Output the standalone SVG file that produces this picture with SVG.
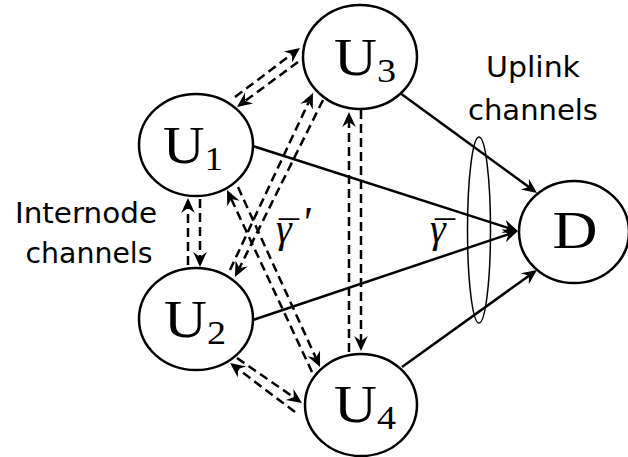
<svg xmlns="http://www.w3.org/2000/svg" width="628" height="457" viewBox="0 0 628 457">
<style>
.node{fill:#fff;stroke:#000;stroke-width:2.5}
.lbl{font-family:"Liberation Serif","Times New Roman",serif;font-size:53px;fill:#000}
.sub{font-size:34px}
.cap{font-family:"DejaVu Sans","Liberation Sans",sans-serif;font-size:29px;fill:#000}
.gm{font-family:"Liberation Serif","Times New Roman",serif;font-style:italic;font-size:40px;fill:#000}
.bar{font-style:normal;font-size:40px}
.pr{font-size:44px}
.dash{fill:none;stroke:#000;stroke-width:2.5;stroke-dasharray:9 5;marker-end:url(#ah)}
.solid{fill:none;stroke:#000;stroke-width:2.5;marker-end:url(#ah)}
</style>
<defs>
<marker id="ah" markerUnits="userSpaceOnUse" markerWidth="22" markerHeight="18" viewBox="-14 -9 18 18" refX="0" refY="0" orient="auto">
<path d="M3,0 L-12,-6.8 L-7,0 L-12,6.8 Z" fill="#000"/>
</marker>
</defs>
<rect width="628" height="457" fill="#fff"/>
<g id="connectors">
<path class="dash" d="M235,97 L297.6,49.8"/>
<path class="dash" d="M298,62 L239.4,105.2"/>
<path class="dash" d="M200,199 L200,264"/>
<path class="dash" d="M188,265 L188,201"/>
<path class="dash" d="M238,187 L318.8,364.3"/>
<path class="dash" d="M312,372 L228.3,192.7"/>
<path class="dash" d="M230,270 L311.7,95.7"/>
<path class="dash" d="M323,100 L236.3,274.3"/>
<path class="dash" d="M361,110 L361,348"/>
<path class="dash" d="M349,352 L349,115"/>
<path class="dash" d="M237,358 L299.5,401.3"/>
<path class="dash" d="M295,412 L232.4,364.8"/>
<path class="solid" d="M253,146 L515.1,230.1"/>
<path class="solid" d="M253,320 L515.1,232"/>
<path class="solid" d="M400,93 L534.6,191.2"/>
<path class="solid" d="M402,367 L534.6,271.7"/>
</g>
<g id="uplink-group">
<ellipse cx="479" cy="230" rx="11.5" ry="93" fill="none" stroke="#000" stroke-width="1.5"/>
</g>
<g id="U1">
<ellipse class="node" cx="196" cy="145" rx="57" ry="51"/>
<text class="lbl" x="193" y="163" text-anchor="middle" textLength="60" lengthAdjust="spacingAndGlyphs">U<tspan class="sub" dy="7">1</tspan></text>
</g>
<g id="U2">
<ellipse class="node" cx="196" cy="319" rx="57" ry="51"/>
<text class="lbl" x="195" y="337" text-anchor="middle" textLength="62" lengthAdjust="spacingAndGlyphs">U<tspan class="sub" dy="7">2</tspan></text>
</g>
<g id="U3">
<ellipse class="node" cx="360" cy="57" rx="57" ry="52"/>
<text class="lbl" x="365" y="75" text-anchor="middle" textLength="62" lengthAdjust="spacingAndGlyphs">U<tspan class="sub" dy="7">3</tspan></text>
</g>
<g id="U4">
<ellipse class="node" cx="361" cy="405" rx="56" ry="51"/>
<text class="lbl" x="365" y="422" text-anchor="middle" textLength="62" lengthAdjust="spacingAndGlyphs">U<tspan class="sub" dy="7">4</tspan></text>
</g>
<g id="D">
<ellipse class="node" cx="574" cy="232" rx="55" ry="51"/>
<text class="lbl" x="575" y="248" text-anchor="middle" textLength="45" lengthAdjust="spacingAndGlyphs">D</text>
</g>
<g id="labels">
<text class="cap" x="86" y="223" text-anchor="middle" textLength="142" lengthAdjust="spacingAndGlyphs">Internode</text>
<text class="cap" x="89" y="263" text-anchor="middle" textLength="127" lengthAdjust="spacingAndGlyphs">channels</text>
<text class="cap" x="533" y="77" text-anchor="middle" textLength="94" lengthAdjust="spacingAndGlyphs">Uplink</text>
<text class="cap" x="533" y="120" text-anchor="middle" textLength="130" lengthAdjust="spacingAndGlyphs">channels</text>
<text class="gm" x="430" y="242">γ<tspan class="bar" x="435" y="249">¯</tspan></text>
<text class="gm" x="276" y="242">γ<tspan class="bar" x="279" y="249">¯</tspan><tspan class="pr" x="301" y="237">'</tspan></text>
</g>
</svg>
